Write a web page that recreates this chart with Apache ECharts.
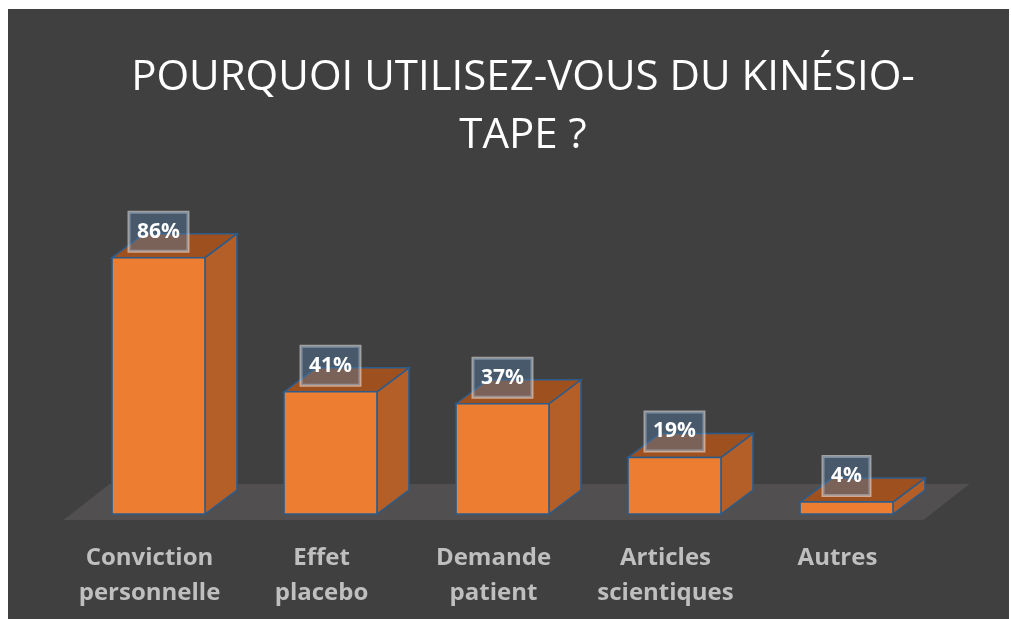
<!DOCTYPE html>
<html>
<head>
<meta charset="utf-8">
<title>Kinésio-tape</title>
<script src="https://cdn.jsdelivr.net/npm/echarts@6/dist/echarts.min.js"></script>
<style>
  html, body { margin: 0; padding: 0; background: #ffffff; }
  #main { position: absolute; left: 8px; top: 9px; width: 1001px; height: 610px; }
</style>
</head>
<body>
<div id="main"></div>
<script>
// données du graphique
var categories = ['Conviction\npersonnelle', 'Effet\nplacebo', 'Demande\npatient', 'Articles\nscientiques', 'Autres'];
var values = [86, 41, 37, 19, 4];

var chart = echarts.init(document.getElementById('main'), null, { renderer: 'canvas' });

// profondeur "3D" des barres
var DX = 32, DY = 24;
var edge = '#2b5c8c';

function renderFloor(params, api) {
  var first = api.coord([0, 0]);
  var last = api.coord([categories.length - 1, 0]);
  var band = api.size([1, 0])[0];
  var xl = first[0] - band / 2 - 9;
  var xr = last[0] + band / 2 - 9;
  var y = first[1] + 6;
  return {
    type: 'polygon',
    shape: { points: [[xl, y], [xr, y], [xr + 46, y - 36], [xl + 46, y - 36]] },
    style: { fill: '#514f4f' },
    silent: true
  };
}

function renderBar(params, api) {
  var idx = api.value(0);
  var top = api.coord([idx, api.value(1)]);
  var base = api.coord([idx, 0]);
  var band = api.size([1, 0])[0];
  var w = band * 0.54;
  var x0 = top[0] - w / 2, x1 = top[0] + w / 2;
  var y0 = top[1], y1 = base[1];
  return {
    type: 'group',
    children: [
      {
        type: 'polygon',
        shape: { points: [[x1, y0], [x1 + DX, y0 - DY], [x1 + DX, y1 - DY], [x1, y1]] },
        style: { fill: '#b45f27', stroke: edge, lineWidth: 1.5 }
      },
      {
        type: 'polygon',
        shape: { points: [[x0, y0], [x0 + DX, y0 - DY], [x1 + DX, y0 - DY], [x1, y0]] },
        style: { fill: '#9e501f', stroke: edge, lineWidth: 1.5 }
      },
      {
        type: 'rect',
        shape: { x: x0, y: y0, width: w, height: y1 - y0 },
        style: { fill: '#ed7d31', stroke: edge, lineWidth: 1.5 }
      },
      {
        type: 'text',
        x: top[0],
        y: y0 - 26,
        style: {
          text: api.value(1) + '%',
          fill: '#ffffff',
          font: 'bold 21px "Open Sans"',
          align: 'center',
          verticalAlign: 'middle',
          backgroundColor: 'rgba(80,120,160,0.45)',
          borderColor: 'rgba(255,255,255,0.5)',
          borderWidth: 1.5,
          padding: [9, 8, 9, 8]
        }
      }
    ]
  };
}

var option = {
  backgroundColor: '#404040',
  animation: false,
  title: {
    text: 'POURQUOI UTILISEZ-VOUS DU KINÉSIO-\nTAPE ?',
    left: 510,
    top: 35,
    textAlign: 'center',
    textStyle: {
      color: '#ffffff',
      fontFamily: 'Open Sans',
      fontWeight: 'normal',
      fontSize: 42,
      lineHeight: 58
    }
  },
  grid: { left: 64.5, right: 76.5, top: 207, bottom: 105 },
  xAxis: {
    type: 'category',
    data: categories,
    axisLine: { show: false },
    axisTick: { show: false },
    axisLabel: {
      color: '#bfbfbf',
      fontFamily: 'Open Sans',
      fontWeight: 'bold',
      fontSize: 24,
      lineHeight: 35,
      margin: 27,
      interval: 0,
      padding: [0, 18, 0, 0]
    }
  },
  yAxis: {
    type: 'value',
    min: 0,
    max: 100,
    show: false
  },
  series: [
    {
      type: 'custom',
      renderItem: renderFloor,
      data: [0],
      z: 1,
      silent: true
    },
    {
      type: 'custom',
      renderItem: renderBar,
      data: values.map(function (v, i) { return [i, v]; }),
      z: 2
    }
  ]
};

chart.setOption(option);
</script>
</body>
</html>
